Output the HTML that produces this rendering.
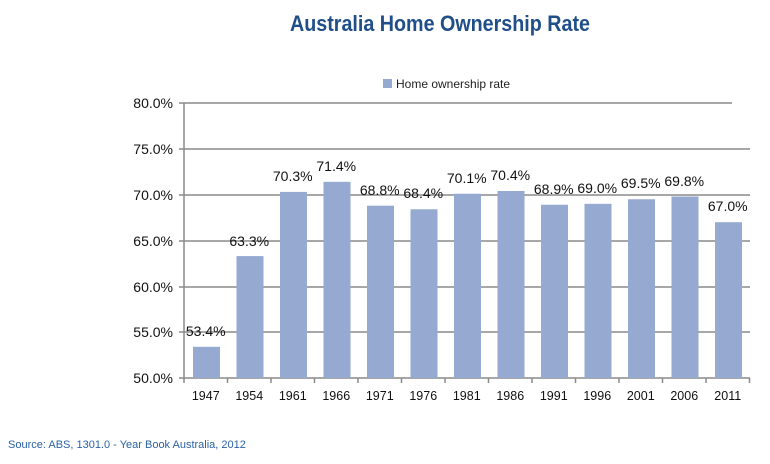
<!DOCTYPE html>
<html><head><meta charset="utf-8"><style>
html,body{margin:0;padding:0;background:#fff;}
</style></head><body>
<svg width="770" height="459" xmlns="http://www.w3.org/2000/svg" font-family="Liberation Sans, sans-serif">
<text x="440" y="31" text-anchor="middle" font-size="22" font-weight="bold" fill="#1f4e89" textLength="300" lengthAdjust="spacingAndGlyphs">Australia Home Ownership Rate</text>
<rect x="383" y="79" width="9" height="9" fill="#95a9d1"/>
<text x="396" y="88" font-size="12" fill="#222">Home ownership rate</text>
<g stroke="#8a8a8a" stroke-width="1.5">
<line x1="179" y1="103" x2="732" y2="103"/>
<line x1="179" y1="149" x2="750" y2="149"/>
<line x1="179" y1="195" x2="750" y2="195"/>
<line x1="179" y1="241" x2="750" y2="241"/>
<line x1="179" y1="287" x2="750" y2="287"/>
<line x1="179" y1="332" x2="750" y2="332"/>
<line x1="179" y1="378" x2="750" y2="378"/>
<line x1="184" y1="103" x2="184" y2="378"/>
</g>
<g font-size="14" fill="#111" text-anchor="end">
<text x="173" y="108">80.0%</text><text x="173" y="154">75.0%</text><text x="173" y="200">70.0%</text><text x="173" y="246">65.0%</text><text x="173" y="292">60.0%</text><text x="173" y="337">55.0%</text><text x="173" y="383">50.0%</text>
</g>
<g fill="#95a9d1">
<rect x="193" y="346.8" width="27" height="31.2"/>
<rect x="236.5" y="256.1" width="27" height="121.9"/>
<rect x="280" y="191.9" width="27" height="186.1"/>
<rect x="323.5" y="181.8" width="27" height="196.2"/>
<rect x="367" y="205.7" width="27" height="172.3"/>
<rect x="410.5" y="209.3" width="27" height="168.7"/>
<rect x="454" y="193.75" width="27" height="184.25"/>
<rect x="497.5" y="191" width="27" height="187"/>
<rect x="541" y="204.75" width="27" height="173.25"/>
<rect x="584.5" y="203.8" width="27" height="174.2"/>
<rect x="628" y="199.25" width="27" height="178.75"/>
<rect x="671.5" y="196.5" width="27" height="181.5"/>
<rect x="715" y="222.2" width="27" height="155.8"/>
</g>
<g stroke="#8a8a8a" stroke-width="1.5">
<line x1="184" y1="378" x2="184" y2="383"/><line x1="227.5" y1="378" x2="227.5" y2="383"/><line x1="271" y1="378" x2="271" y2="383"/><line x1="314.5" y1="378" x2="314.5" y2="383"/><line x1="358" y1="378" x2="358" y2="383"/><line x1="401.5" y1="378" x2="401.5" y2="383"/><line x1="445" y1="378" x2="445" y2="383"/><line x1="488.5" y1="378" x2="488.5" y2="383"/><line x1="532" y1="378" x2="532" y2="383"/><line x1="575.5" y1="378" x2="575.5" y2="383"/><line x1="619" y1="378" x2="619" y2="383"/><line x1="662.5" y1="378" x2="662.5" y2="383"/><line x1="706" y1="378" x2="706" y2="383"/><line x1="749.5" y1="378" x2="749.5" y2="383"/>
</g>
<g font-size="12.5" fill="#111" text-anchor="middle">
<text x="205.75" y="400">1947</text><text x="249.25" y="400">1954</text><text x="292.75" y="400">1961</text><text x="336.25" y="400">1966</text><text x="379.75" y="400">1971</text><text x="423.25" y="400">1976</text><text x="466.75" y="400">1981</text><text x="510.25" y="400">1986</text><text x="553.75" y="400">1991</text><text x="597.25" y="400">1996</text><text x="640.75" y="400">2001</text><text x="684.25" y="400">2006</text><text x="727.75" y="400">2011</text>
</g>
<g font-size="14" fill="#111" text-anchor="middle">
<text x="205.75" y="336">53.4%</text><text x="249.25" y="246">63.3%</text><text x="292.75" y="181">70.3%</text><text x="336.25" y="171">71.4%</text><text x="379.75" y="195">68.8%</text><text x="423.25" y="198">68.4%</text><text x="466.75" y="183">70.1%</text><text x="510.25" y="180">70.4%</text><text x="553.75" y="194">68.9%</text><text x="597.25" y="193">69.0%</text><text x="640.75" y="188">69.5%</text><text x="684.25" y="186">69.8%</text><text x="727.75" y="211">67.0%</text>
</g>
<text x="8" y="448" font-size="11" fill="#2b63a6">Source: ABS, 1301.0 - Year Book Australia, 2012</text>
</svg>
</body></html>
